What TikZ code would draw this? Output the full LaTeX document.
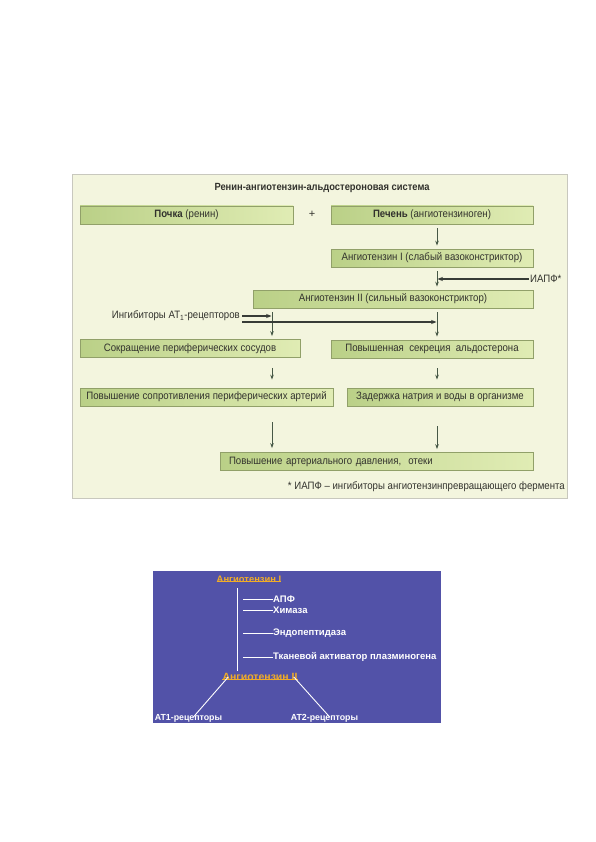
\documentclass[tikz,border=0pt]{standalone}
\usepackage{fontspec}
\setmainfont{Liberation Sans}
\newfontfamily\cond[FakeStretch=0.9]{Liberation Sans}
\usetikzlibrary{arrows.meta,calc}
\definecolor{panelbg}{RGB}{243,245,222}
\definecolor{framecol}{RGB}{200,200,190}
\definecolor{boxL}{RGB}{186,208,135}
\definecolor{boxR}{RGB}{224,236,180}
\definecolor{boxborder}{RGB}{145,160,105}
\definecolor{arrcol}{RGB}{70,88,70}
\definecolor{harrcol}{RGB}{55,60,55}
\definecolor{txt}{RGB}{50,50,45}
\definecolor{bluepanel}{RGB}{82,82,168}
\definecolor{orangetxt}{RGB}{240,172,40}
\tikzset{
  gbox/.style={draw=boxborder, line width=0.8pt, left color=boxL, right color=boxR,
    minimum height=18pt, inner sep=0pt, text height=7.5pt, text depth=2pt,
    font=\cond\fontsize{10.7}{12}\selectfont, text=txt},
  plain/.style={font=\cond\fontsize{10.7}{12}\selectfont, text=txt, inner sep=0pt},
  arr/.style={draw=arrcol, line width=0.9pt, -{Stealth[length=5pt,width=3.6pt]}},
  harr/.style={draw=harrcol, line width=1.3pt, -{Stealth[length=5.5pt,width=4.2pt]}},
  varr/.style={arr, shorten <=4pt, shorten >=3pt},
  wlab/.style={font=\bfseries\fontsize{9.5}{11}\selectfont, text=white, inner sep=0pt},
  olab/.style={font=\bfseries\fontsize{9.4}{11}\selectfont, text=orangetxt, inner sep=0pt},
  wline/.style={draw=white, line width=0.9pt}
}
\begin{document}
\begin{tikzpicture}[x=1pt,y=-1pt]
\useasboundingbox (0,0) rectangle (596,842);
\fill[white] (0,0) rectangle (596,842);
% top panel
\draw[draw=framecol, fill=panelbg, line width=0.8pt] (72,174) rectangle (567,498);
\coordinate (xL) at (272,0);
\coordinate (xR) at (437,0);
\node[plain, font=\cond\bfseries\fontsize{10.4}{12}\selectfont] (title) at (322,188) {Ренин-ангиотензин-альдостероновая система};
\node[gbox, minimum width=213pt] (pochka) at (186.5,215) {\textbf{Почка} (ренин)};
\node[plain, font=\fontsize{11}{12}\selectfont] (plus) at (312,214) {+};
\node[gbox, minimum width=202pt] (pechen) at (432,215) {\textbf{Печень} (ангиотензиноген)};
\node[gbox, minimum width=202pt] (ang1) at (432,258) {Ангиотензин I (слабый вазоконстриктор)};
\node[gbox, minimum width=280pt] (ang2) at (393,299) {Ангиотензин II (сильный вазоконстриктор)};
\node[gbox, minimum width=220pt] (sokr) at (190,348.5) {Сокращение периферических сосудов};
\node[gbox, minimum width=202pt] (sekr) at (432,349) {Повышенная\ \ секреция\ \ альдостерона};
\node[gbox, minimum width=253pt] (sopr) at (206.5,397) {Повышение сопротивления периферических артерий};
\node[gbox, minimum width=186pt] (zad) at (440,397) {Задержка натрия и воды в организме};
\node[gbox, minimum width=313pt, text width=295pt, align=left] (final) at (376.5,461.5) {Повышение артериального давления,\ \ отеки};
\node[plain, anchor=west] (iapf) at (530,279) {ИАПФ*};
\node[plain, anchor=east] (inh) at (240,316) {Ингибиторы AT\textsubscript{1}-рецепторов};
\node[plain, anchor=east] (foot) at (565,487) {* ИАПФ – ингибиторы ангиотензинпревращающего фермента};
% arrows
\draw[varr] (pechen.south -| xR) -- (ang1.north -| xR);
\draw[varr] (ang1.south -| xR) -- (ang2.north -| xR);
\draw[harr, shorten >=0.5pt] ([xshift=-1pt]iapf.west) -- (iapf.west -| xR);
\draw[varr] (ang2.south -| xL) -- (sokr.north -| xL);
\draw[varr] (ang2.south -| xR) -- (sekr.north -| xR);
\draw[harr, shorten <=2pt, shorten >=0.5pt] ([yshift=0pt]inh.east) -- ([yshift=0pt]inh.east -| xL);
\draw[harr, shorten <=2pt, shorten >=0.5pt] ([yshift=-6pt]inh.east) -- ([yshift=-6pt]inh.east -| xR);
\draw[arr, shorten <=10pt, shorten >=8pt] (sokr.south -| xL) -- (sopr.north -| xL);
\draw[arr, shorten <=10pt, shorten >=8pt] (sekr.south -| xR) -- (zad.north -| xR);
\draw[arr, shorten <=16pt, shorten >=4pt] (sopr.south -| xL) -- (final.north -| xL);
\draw[arr, shorten <=20pt, shorten >=3pt] (zad.south -| xR) -- (final.north -| xR);
% bottom panel
\fill[bluepanel] (153,571) rectangle (441,723);
\node[olab] (a1) at (249,579) {Ангиотензин I};
\draw[orangetxt, line width=0.7pt] ([yshift=1.2pt]a1.south west) -- ([yshift=1.2pt]a1.south east);
\coordinate (vt) at (237,588);
\coordinate (vb) at (237,671);
\draw[wline] (vt) -- (vb);
\node[wlab, anchor=west] (apf) at (273,599) {АПФ};
\node[wlab, anchor=west] (him) at (273,610) {Химаза};
\node[wlab, anchor=west] (endo) at (273,633) {Эндопептидаза};
\node[wlab, anchor=west] (tka) at (273,657) {Тканевой активатор плазминогена};
\foreach \n in {apf,him,endo,tka}{
  \draw[wline] (\n.west) -- (\n.west -| 243,0);
}
\node[olab, font=\bfseries\fontsize{10.5}{12}\selectfont] (a2) at (260,677) {Ангиотензин II};
\draw[orangetxt, line width=0.7pt] ([yshift=1.2pt]a2.south west) -- ([yshift=1.2pt]a2.south east);
\node[wlab, font=\bfseries\fontsize{8.8}{10}\selectfont] (at1) at (188.5,718) {AT1-рецепторы};
\node[wlab, font=\bfseries\fontsize{8.8}{10}\selectfont] (at2) at (324.5,718) {AT2-рецепторы};
\draw[wline] ([xshift=6pt,yshift=4pt]a2.south west) -- ([xshift=5pt,yshift=-3pt]at1.north);
\draw[wline] ([xshift=-4pt,yshift=4pt]a2.south east) -- ([xshift=5pt,yshift=-3pt]at2.north);
\end{tikzpicture}
\end{document}
